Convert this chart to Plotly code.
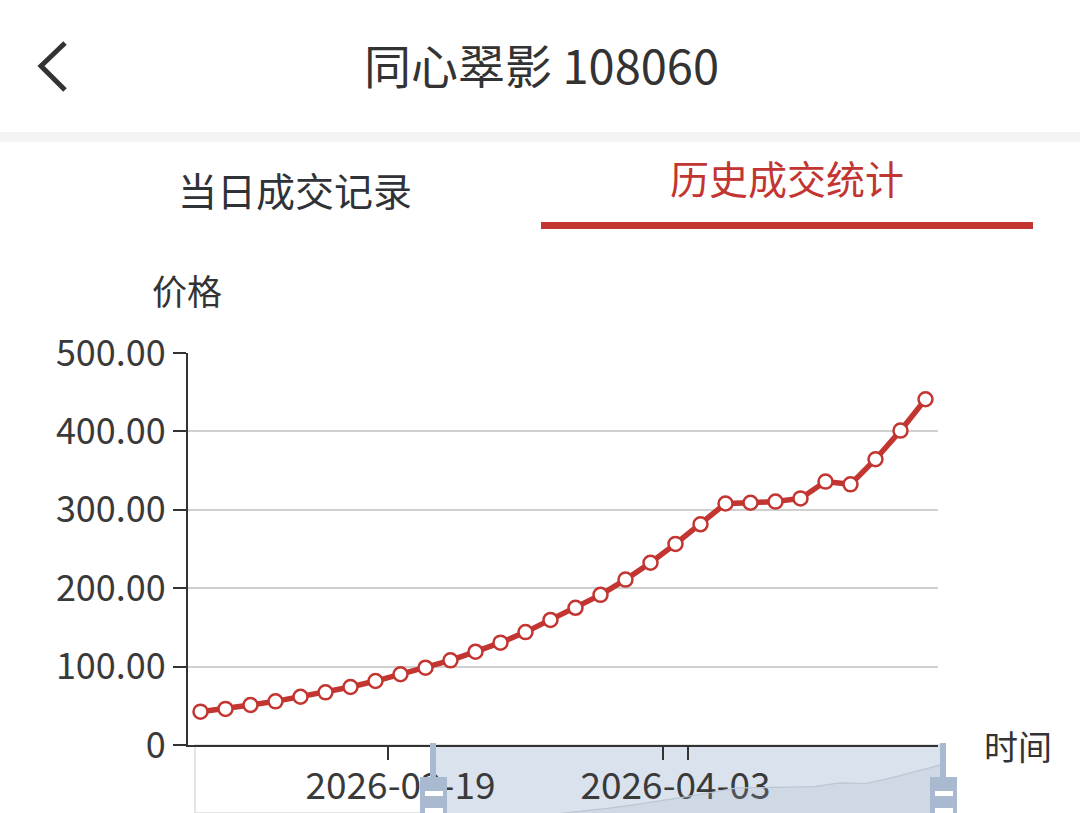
"""Price history chart for 同心翠影 108060, mobile app style."""

import plotly.graph_objects as go

W, H = 1080, 813

# trading days shown on the category axis
dates = [
    "2026-03-09", "2026-03-10", "2026-03-11", "2026-03-12", "2026-03-13",
    "2026-03-16", "2026-03-17", "2026-03-18", "2026-03-19", "2026-03-20",
    "2026-03-23", "2026-03-24", "2026-03-25", "2026-03-26", "2026-03-27",
    "2026-03-30", "2026-03-31", "2026-04-01", "2026-04-02", "2026-04-03",
    "2026-04-06", "2026-04-07", "2026-04-08", "2026-04-09", "2026-04-10",
    "2026-04-13", "2026-04-14", "2026-04-15", "2026-04-16", "2026-04-17",
]
prices = [
    42.5, 46.0, 51.0, 55.7, 61.6, 67.2, 74.0, 81.6, 90.2, 98.6,
    108.0, 119.0, 130.5, 144.0, 159.5, 175.0, 191.5, 211.0, 232.5, 256.5,
    281.5, 308.0, 309.0, 310.5, 314.5, 336.0, 332.5, 364.5, 401.0, 441.0,
]
x_tick_dates = ["2026-03-19", "2026-04-03"]
y_ticks = [0, 100, 200, 300, 400, 500]
y_tick_text = ["0", "100.00", "200.00", "300.00", "400.00", "500.00"]

FONT = "Noto Sans CJK SC, Noto Sans, sans-serif"
RED = "#c23531"
DARK = "#333333"


def px(x):
    return x / W


def py(y):
    return 1 - y / H


fig = go.Figure()

# main price line
fig.add_trace(
    go.Scatter(
        x=dates,
        y=prices,
        mode="lines+markers",
        line={"color": RED, "width": 5.5},
        marker={"size": 14, "color": "white", "line": {"color": RED, "width": 2.5}},
        cliponaxis=False,
        showlegend=False,
        hoverinfo="x+y",
    )
)

# dataZoom shadow inside the slider
fig.add_trace(
    go.Scatter(
        x=dates,
        y=prices,
        xaxis="x2",
        yaxis="y2",
        mode="lines",
        line={"color": "#bcc6d3", "width": 1.2},
        fill="tozeroy",
        fillcolor="rgba(170,185,205,0.2)",
        showlegend=False,
        hoverinfo="skip",
    )
)

fig.update_layout(
    width=W,
    height=H,
    margin={"l": 0, "r": 0, "t": 0, "b": 0, "autoexpand": False},
    paper_bgcolor="white",
    plot_bgcolor="white",
    font={"family": FONT, "color": DARK},
    xaxis={
        "type": "category",
        "domain": [px(188), px(938)],
        "range": [-0.5, len(dates) - 0.5],
        "tickmode": "array",
        "tickvals": x_tick_dates,
        "ticktext": x_tick_dates,
        "tickson": "boundaries",
        "tickangle": 0,
        "automargin": False,
        "ticks": "outside",
        "ticklen": 13,
        "tickwidth": 2,
        "tickcolor": DARK,
        "ticklabelstandoff": 8,
        "tickfont": {"size": 37, "color": "#3a3a3a"},
        "showline": True,
        "linecolor": DARK,
        "linewidth": 2,
        "showgrid": False,
        "zeroline": False,
        "fixedrange": True,
    },
    yaxis={
        "domain": [py(745), py(353)],
        "range": [0, 500],
        "tickmode": "array",
        "tickvals": y_ticks,
        "ticktext": y_tick_text,
        "automargin": False,
        "ticks": "outside",
        "ticklen": 13,
        "tickwidth": 2,
        "tickcolor": DARK,
        "tickfont": {"size": 36, "color": "#3a3a3a"},
        "showline": True,
        "linecolor": DARK,
        "linewidth": 2,
        "showgrid": True,
        "gridcolor": "#d0d0d0",
        "gridwidth": 2,
        "zeroline": False,
        "fixedrange": True,
    },
    xaxis2={
        "type": "category",
        "domain": [px(195), px(943)],
        "range": [0, len(dates) - 1],
        "visible": False,
        "automargin": False,
        "fixedrange": True,
    },
    yaxis2={
        "domain": [0, py(745)],
        "range": [165, 551],
        "visible": False,
        "automargin": False,
        "fixedrange": True,
    },
)

shapes = [
    # header separator band
    {"type": "rect", "xref": "paper", "yref": "paper", "x0": 0, "x1": 1,
     "y0": py(142), "y1": py(132), "fillcolor": "#f4f4f4", "line": {"width": 0}},
    # back chevron
    {"type": "path", "xref": "paper", "yref": "paper",
     "path": f"M {px(65)} {py(43)} L {px(41)} {py(66)} L {px(65)} {py(90)}",
     "line": {"color": DARK, "width": 5}},
    # active tab underline
    {"type": "rect", "xref": "paper", "yref": "paper", "x0": px(541), "x1": px(1033),
     "y0": py(229), "y1": py(222), "fillcolor": RED, "line": {"width": 0}},
    # slider frame
    {"type": "rect", "xref": "paper", "yref": "paper", "x0": px(195), "x1": px(943),
     "y0": 0, "y1": py(745), "fillcolor": "rgba(0,0,0,0)",
     "line": {"color": "#dcdcdc", "width": 1.5}, "layer": "below"},
    # slider selected window
    {"type": "rect", "xref": "paper", "yref": "paper", "x0": px(433), "x1": px(943),
     "y0": 0, "y1": py(745), "fillcolor": "#d9e2ed", "line": {"width": 0},
     "layer": "below"},
]

# slider handles
for hx in (433, 943):
    shapes += [
        {"type": "rect", "xref": "paper", "yref": "paper", "x0": px(hx - 3), "x1": px(hx + 3),
         "y0": py(778), "y1": py(743), "fillcolor": "#a9b9cf", "line": {"width": 0}},
        {"type": "rect", "xref": "paper", "yref": "paper", "x0": px(hx - 13), "x1": px(hx + 14),
         "y0": 0, "y1": py(777), "fillcolor": "#a9b9cf", "line": {"width": 0}},
        {"type": "rect", "xref": "paper", "yref": "paper", "x0": px(hx - 8), "x1": px(hx + 10),
         "y0": py(796), "y1": py(791), "fillcolor": "white", "line": {"width": 0}},
        {"type": "rect", "xref": "paper", "yref": "paper", "x0": px(hx - 8), "x1": px(hx + 10),
         "y0": py(813), "y1": py(808), "fillcolor": "white", "line": {"width": 0}},
    ]
fig.update_layout(shapes=shapes)

annotations = [
    {"text": "同心翠影 108060", "x": px(541), "y": py(63), "font": {"size": 47, "color": DARK}},
    {"text": "当日成交记录", "x": px(295), "y": py(189), "font": {"size": 39, "color": "#2f3338"}},
    {"text": "历史成交统计", "x": px(787), "y": py(177), "font": {"size": 39, "color": RED}},
    {"text": "价格", "x": px(187), "y": py(289), "font": {"size": 35, "color": DARK}},
    {"text": "时间", "x": px(1018), "y": py(745), "font": {"size": 34, "color": DARK}},
]
for a in annotations:
    a.update({"xref": "paper", "yref": "paper", "showarrow": False,
              "xanchor": "center", "yanchor": "middle"})
fig.update_layout(annotations=annotations)

fig.write_html(
    "out.html",
    config={"displayModeBar": False},
    post_script="document.body.style.margin='0';",
)
